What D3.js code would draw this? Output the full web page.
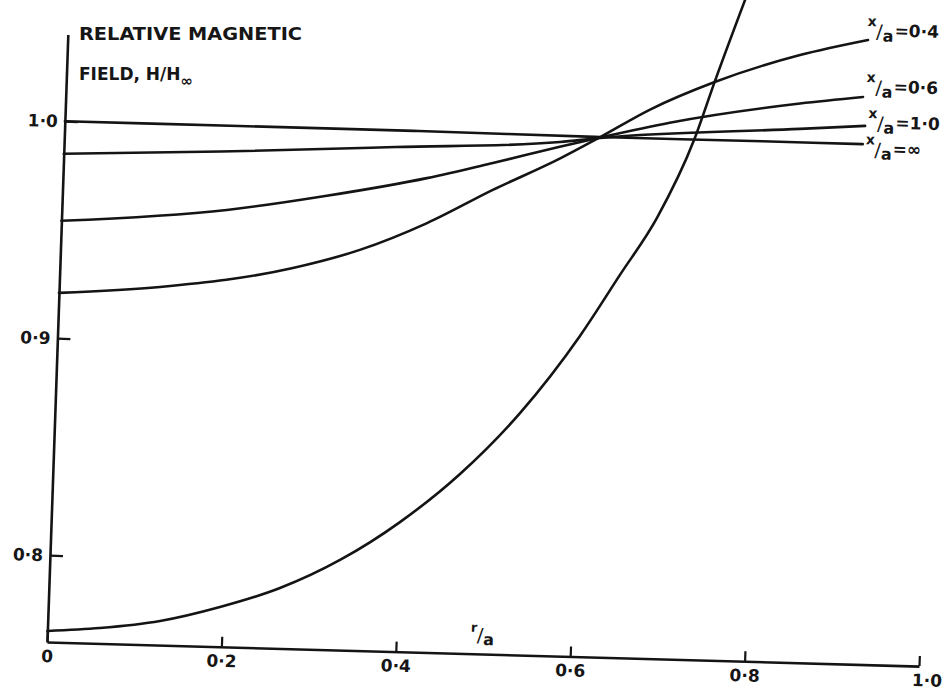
<!DOCTYPE html>
<html><head><meta charset="utf-8">
<script src="https://cdn.jsdelivr.net/npm/d3@7"></script>
<style>
body{margin:0;background:#fff}
text{font-family:"DejaVu Sans",sans-serif;font-weight:bold;fill:#161616}
</style>
</head><body>
<svg id="chart" width="945" height="696"></svg>
<script>
// ---- data (r/a vs H/H∞) ----
const xTicks = [0, 0.2, 0.4, 0.6, 0.8, 1.0];
const xTickLabels = ["0", "0·2", "0·4", "0·6", "0·8", "1·0"];
const yTicks = [0.8, 0.9, 1.0];
const yTickLabels = ["0·8", "0·9", "1·0"];

const rInf = [0, 0.2, 0.4, 0.614, 0.8, 0.915];
const hInf = [1.000, 1.000, 1.000, 0.9995, 0.9996, 0.9996];

const r10 = [0, 0.18, 0.38, 0.568, 0.614, 0.8425, 0.917];
const h10 = [0.985, 0.988, 0.9923, 0.9967, 0.9991, 1.0058, 1.0080];

const r06 = [0, 0.189, 0.303, 0.417, 0.492, 0.568, 0.614, 0.693, 0.8415, 0.9135];
const h06 = [0.9541, 0.9612, 0.9690, 0.9784, 0.9862, 0.9945, 0.9993, 1.0070, 1.0175, 1.0213];

const r04 = [0, 0.1155, 0.267, 0.343, 0.419, 0.493, 0.569, 0.614, 0.670, 0.743, 0.8397, 0.917];
const h04 = [0.9209, 0.9249, 0.9353, 0.9445, 0.9577, 0.9738, 0.9892, 0.9995, 1.0128, 1.0263, 1.0398, 1.0476];

// unlabelled steepest curve (runs off the top of the sheet)
const rSteep = [0, 0.06, 0.1287, 0.1968, 0.2648, 0.3325, 0.3997, 0.4666, 0.5329, 0.5986, 0.642, 0.6822, 0.7216, 0.7433, 0.7745];
const hSteep = [0.7651, 0.7671, 0.7711, 0.7783, 0.7878, 0.8015, 0.8197, 0.8426, 0.8714, 0.9077, 0.9363, 0.963, 0.9993, 1.0268, 1.0644];

const seriesNames = ["∞", "1·0", "0·6", "0·4", ""];

// ---- layout ----
const svg = d3.select("#chart");
svg.append("rect").attr("width", 945).attr("height", 696).attr("fill", "#fff");

const OX = 47, OY = 642;           // origin of the drawn axes
const SHEAR_X = 0.0276;            // x axis drops slightly to the right
const SHEAR_Y = -0.0343;           // y axis leans slightly to the right going up

const x = d3.scaleLinear().domain([0, 1]).range([0, 872]);
const y = d3.scaleLinear().domain([0.76, 1.0]).range([0, -520.8]);

const g = svg.append("g")
  .attr("transform", `matrix(1,${SHEAR_X},${SHEAR_Y},1,${OX},${OY})`);

const INK = "#141414";

// axes
const xAxis = d3.axisBottom(x).tickValues(xTicks)
  .tickFormat((d, i) => xTickLabels[i]).tickSize(-10).tickSizeOuter(0).tickPadding(8);
const gx = g.append("g").call(xAxis);
gx.select(".domain").attr("stroke", INK).attr("stroke-width", 2.6);
gx.selectAll(".tick line").attr("stroke", INK).attr("stroke-width", 2.2);
gx.selectAll(".tick text").attr("font-size", 17).attr("font-family", "DejaVu Sans")
  .attr("font-weight", "bold").attr("fill", INK)
  .attr("dx", (d, i) => i === xTicks.length - 1 ? 8 : 0);

const y2 = d3.scaleLinear().domain([0.76, 1.04]).range([0, y(1.04)]);
const yAxis = d3.axisLeft(y2).tickValues(yTicks)
  .tickFormat((d, i) => yTickLabels[i]).tickSize(-13).tickSizeOuter(0).tickPadding(7);
const gy = g.append("g").call(yAxis);
gy.select(".domain").attr("stroke", INK).attr("stroke-width", 2.6);
gy.selectAll(".tick line").attr("stroke", INK).attr("stroke-width", 2.2);
gy.selectAll(".tick text").attr("font-size", 17).attr("font-family", "DejaVu Sans")
  .attr("font-weight", "bold").attr("fill", INK);

// curves
const line = d3.line().x(d => x(d[0])).y(d => y(d[1])).curve(d3.curveMonotoneX);
const series = [
  [rInf, hInf], [r10, h10], [r06, h06], [r04, h04], [rSteep, hSteep]
];
series.forEach(([rs, hs]) => {
  g.append("path")
    .datum(rs.map((r, i) => [r, hs[i]]))
    .attr("d", line)
    .attr("fill", "none")
    .attr("stroke", INK)
    .attr("stroke-width", 2.6)
    .attr("stroke-linecap", "round");
});

// curve labels  ( x/a = value ), anchored just right of each curve end
const labelOffsets = [[3, 10], [3, 2], [3, -5], [-1, -4]];
series.slice(0, 4).forEach(([rs, hs], k) => {
  const n = rs.length - 1;
  const px = x(rs[n]) + labelOffsets[k][0];
  const py = y(hs[n]) + labelOffsets[k][1];
  const t = g.append("text").attr("x", px).attr("y", py);
  t.append("tspan").attr("font-size", 14).attr("dy", -10).text("x");
  t.append("tspan").attr("font-size", 19).attr("dy", 12).attr("font-weight", "normal").text("/");
  t.append("tspan").attr("font-size", 16).attr("dy", 3).text("a");
  t.append("tspan").attr("font-size", 17).attr("dy", -5).attr("dx", 1).text("=" + seriesNames[k]);
});

// axis title r/a
const ra = g.append("text").attr("x", x(0.485)).attr("y", -14);
ra.append("tspan").attr("font-size", 13).attr("dy", -8).text("r");
ra.append("tspan").attr("font-size", 19).attr("dy", 10).attr("font-weight", "normal").text("/");
ra.append("tspan").attr("font-size", 16).attr("dy", 3).text("a");

// y title
svg.append("text").attr("x", 79).attr("y", 40).attr("font-size", 17)
  .attr("textLength", 223).attr("lengthAdjust", "spacingAndGlyphs")
  .text("RELATIVE  MAGNETIC");
const ft = svg.append("text").attr("x", 79).attr("y", 80).attr("font-size", 17);
ft.append("tspan").text("FIELD,  H/H");
ft.append("tspan").attr("font-size", 15).attr("dy", 6).text("∞");
</script>
</body></html>
